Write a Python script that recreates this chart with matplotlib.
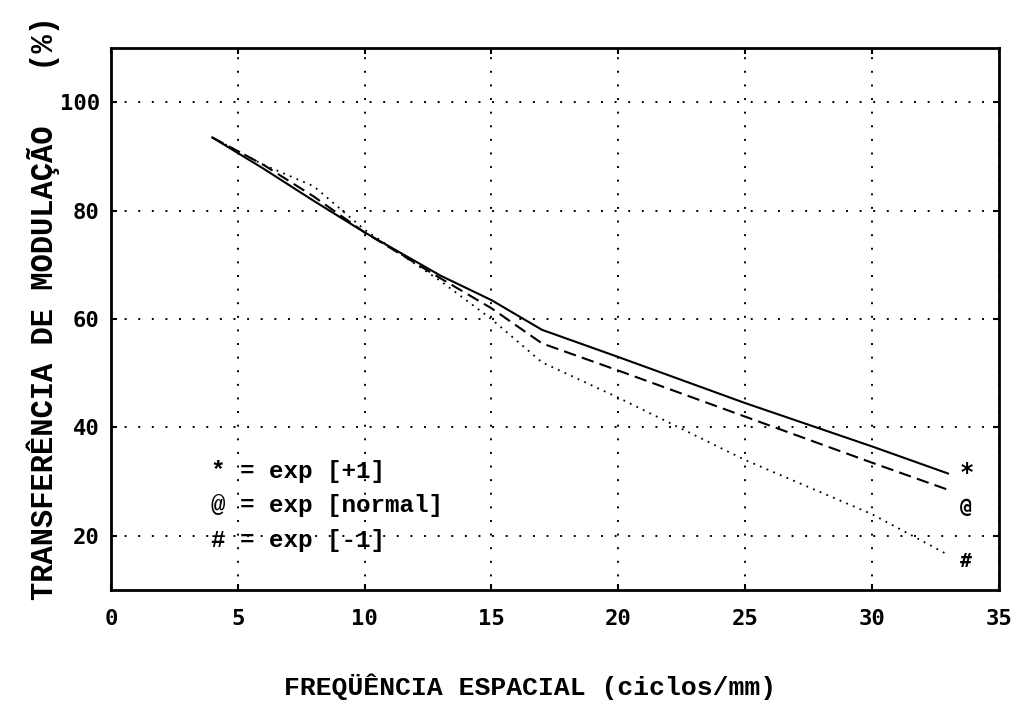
import matplotlib
matplotlib.use("Agg")
import matplotlib.pyplot as plt

# frequencia espacial (ciclos/mm)
freq = [4, 6, 8, 10, 13, 15, 17, 20, 25, 30, 33]
# transferencia de modulacao (%)
exp_mais1 = [93.5, 87.8, 81.8, 76, 68, 63.5, 58, 53, 44.5, 36.5, 31.5]
exp_normal = [93.5, 88.5, 82.6, 76, 67.5, 62, 55.5, 50.5, 42, 33.5, 28.5]
exp_menos1 = [93.5, 88.5, 84.5, 76.5, 67, 60, 52, 45.5, 34, 24, 16.5]

xticks = [0, 5, 10, 15, 20, 25, 30, 35]
yticks = [20, 40, 60, 80, 100]

mono = "DejaVu Sans Mono"
slab = "Liberation Mono"

fig = plt.figure(figsize=(10.17, 7.07), dpi=100)
ax = fig.add_axes([0.109, 0.1655, 0.873, 0.7665])

ax.plot(freq, exp_mais1, color="black", lw=1.5, ls="-")
ax.plot(freq, exp_normal, color="black", lw=1.5, ls=(0, (6, 3)))
ax.plot(freq, exp_menos1, color="black", lw=1.3, ls=(0, (1, 3)))

# marcadores no final das curvas
ax.text(33.45, exp_mais1[-1], "*", fontsize=17, fontweight="bold", family=mono, va="center")
ax.text(33.45, exp_normal[-1] - 3.3, "@", fontsize=14, fontweight="bold", family=mono, va="center")
ax.text(33.45, exp_menos1[-1] - 1.2, "#", fontsize=14, fontweight="bold", family=mono, va="center")

# legenda em texto
leg = ["* = exp [+1]", "@ = exp [normal]", "# = exp [-1]"]
for txt, yy in zip(leg, [31.8, 25.6, 19.2]):
    ax.text(3.95, yy, txt, fontsize=17.5, fontweight="bold", family=slab, va="center")

ax.set_xlim(0, 35)
ax.set_ylim(10, 110)
ax.set_xticks(xticks)
ax.set_yticks(yticks)
ax.set_xticklabels([str(t) for t in xticks], family=mono, fontweight="bold", fontsize=16)
ax.set_yticklabels([str(t) for t in yticks], family=mono, fontweight="bold", fontsize=16)
ax.tick_params(direction="in", length=4, width=1.5, top=True, right=True)
ax.tick_params(axis="x", pad=14)
ax.tick_params(axis="y", pad=8)

ax.grid(True, color="black", lw=1.4, ls=(0, (1, 6)))
for s in ax.spines.values():
    s.set_linewidth(2)

ax.set_xlabel("FREQÜÊNCIA ESPACIAL (ciclos/mm)", family=slab, fontweight="bold", fontsize=19)
ax.xaxis.set_label_coords(0.472, -0.155)
ax.set_ylabel("TRANSFERÊNCIA DE MODULAÇÃO   (%)", family=slab, fontweight="bold", fontsize=22)
ax.yaxis.set_label_coords(-0.057, 0.52)

fig.savefig("out.png", dpi=100)
